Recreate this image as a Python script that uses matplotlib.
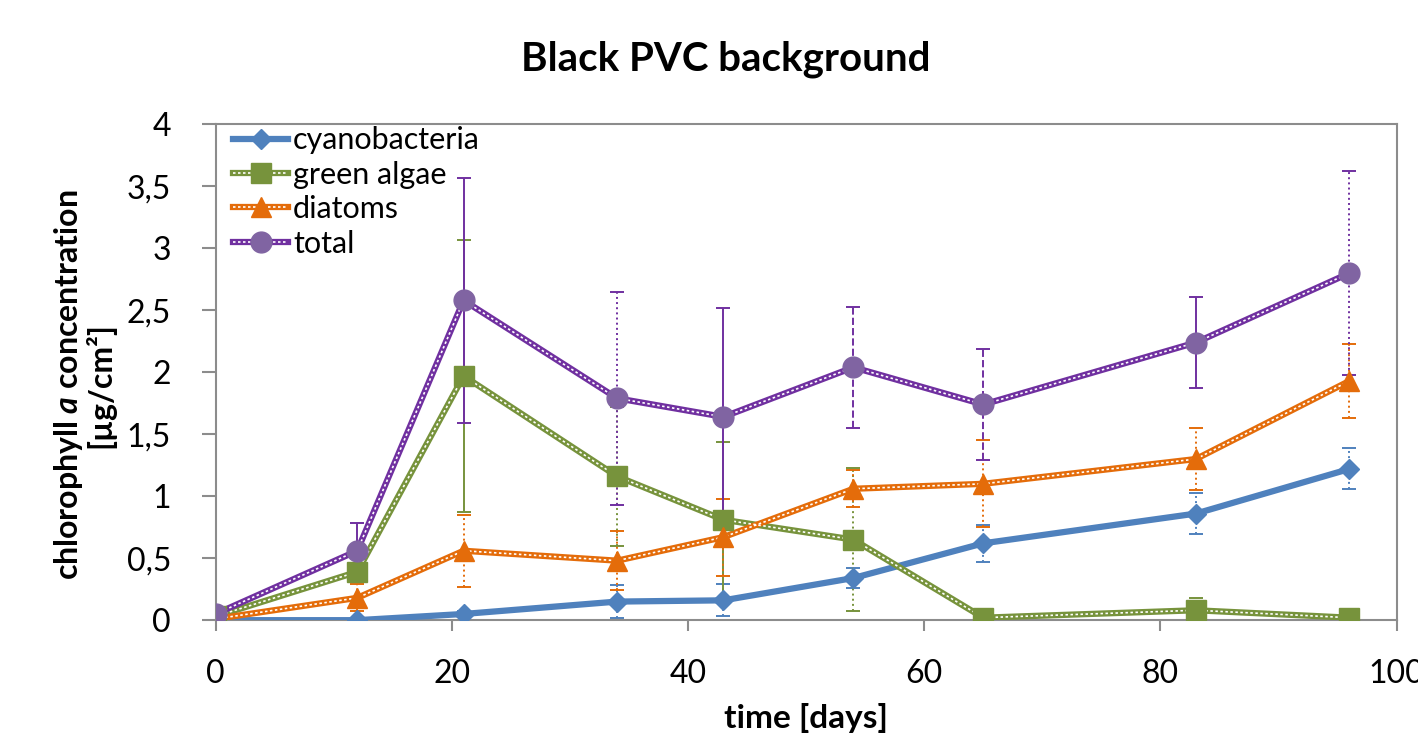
import numpy as np
import matplotlib.pyplot as plt
from matplotlib.lines import Line2D
from matplotlib.legend_handler import HandlerTuple
from matplotlib.ticker import FuncFormatter

plt.rcParams['font.family'] = ['Lato', 'DejaVu Sans']
plt.rcParams['mathtext.fontset'] = 'custom'
plt.rcParams['mathtext.rm'] = 'Lato:bold'
plt.rcParams['mathtext.it'] = 'Lato:bold:italic'

# sampling days
days = [0, 12, 21, 34, 43, 54, 65, 83, 96]

# chlorophyll a concentration [ug/cm2]
cyano = [0.0, 0.0, 0.05, 0.15, 0.16, 0.34, 0.62, 0.86, 1.22]
cyano_err = [0.02, 0.02, 0.02, 0.13, 0.13, 0.08, 0.15, 0.165, 0.165]
green = [0.03, 0.39, 1.97, 1.16, 0.81, 0.65, 0.02, 0.08, 0.02]
green_err = [0.02, 0.05, 1.1, 0.56, 0.63, 0.58, 0.02, 0.1, 0.02]
diatoms = [0.01, 0.18, 0.56, 0.48, 0.67, 1.06, 1.1, 1.3, 1.93]
diatoms_err = [0.02, 0.11, 0.29, 0.24, 0.31, 0.15, 0.35, 0.25, 0.3]
total = [0.05, 0.56, 2.58, 1.79, 1.64, 2.04, 1.74, 2.24, 2.8]
total_err = [0.02, 0.22, 0.99, 0.86, 0.88, 0.49, 0.45, 0.37, 0.82]

labels = ["cyanobacteria", "green algae", "diatoms", "total"]

fig = plt.figure(figsize=(14.18, 7.49), dpi=100)
ax = fig.add_axes([0.152, 0.172, 0.833, 0.662])

# error bar dash styles differ a bit per point, as in the original
total_els = [':', '-', '-', ':', '-', '--', '--', '-', ':']
green_els = [':', ':', '-', ':', '-', ':', ':', ':', ':']

series = [
    (cyano, cyano_err, "#4F81BD", "#4F81BD", "D", 10.5, False, ':'),
    (green, green_err, "#77933C", "#77933C", "s", 14, True, green_els),
    (diatoms, diatoms_err, "#E46C0A", "#E46C0A", "^", 15, True, ':'),
    (total, total_err, "#7030A0", "#8064A2", "o", 15, True, total_els),
]

handles = []
for vals, err, col, mcol, mk, ms, compound, els in series:
    eb = ax.errorbar(days, vals, yerr=err, fmt='none', ecolor=col, elinewidth=1.4,
                     capsize=5, capthick=1.4, zorder=2)
    eb[2][0].set_linestyle(els)
    ax.plot(days, vals, color=col, lw=4.5, zorder=3)
    h = [Line2D([], [], color=col, lw=4.5)]
    if compound:
        ax.plot(days, vals, color='white', lw=1.2, ls=(0, (1.5, 1.5)), zorder=4)
        h.append(Line2D([], [], color='white', lw=1.2, ls=(0, (1.5, 1.5))))
    ax.plot(days, vals, ls='none', marker=mk, ms=ms, color=mcol, zorder=5)
    h.append(Line2D([], [], ls='none', marker=mk, ms=ms, color=mcol))
    handles.append(tuple(h))

ax.legend(handles, labels, handler_map={tuple: HandlerTuple(ndivide=1, pad=0)},
          loc='upper left', bbox_to_anchor=(0.015, 0.996), frameon=False, fontsize=22,
          handlelength=1.8, handletextpad=0.16, labelspacing=0.21,
          borderaxespad=0, borderpad=0)

ax.set_xlim(0, 100)
ax.set_ylim(0, 4)
ax.set_xticks(np.arange(0, 101, 20))
ax.set_yticks(np.arange(0, 4.01, 0.5))
ax.yaxis.set_major_formatter(FuncFormatter(lambda v, p: f"{v:g}".replace('.', ',')))
for s in ax.spines.values():
    s.set_color('#8c8c8c')
    s.set_linewidth(1.5)
ax.tick_params(direction='out', width=1.5, color='#8c8c8c', labelsize=23)
ax.tick_params(axis='y', length=10, pad=22)
ax.tick_params(axis='x', length=8, pad=20)

fig.text(0.512, 0.906, "Black PVC background", fontsize=29, fontweight='bold',
         ha='center', va='baseline')
ax.set_xlabel("time [days]", fontsize=24, fontweight='bold')
ax.xaxis.set_label_coords(0.5, -0.168)
ax.set_ylabel("chlorophyll $a$ concentration\n[µg/cm²]", fontsize=23, fontweight='bold',
              linespacing=0.95)
ax.yaxis.set_label_coords(-0.085, 0.474)

fig.savefig("out.png", dpi=100)
